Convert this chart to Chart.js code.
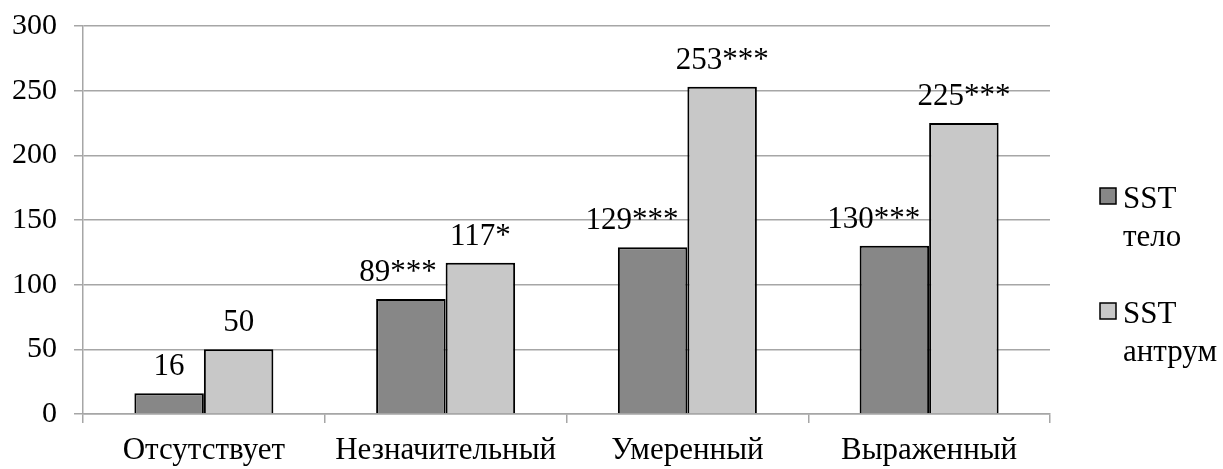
<!DOCTYPE html>
<html>
<head>
<meta charset="utf-8">
<script src="https://cdn.jsdelivr.net/npm/chart.js@4.4.0/dist/chart.umd.min.js"></script>
<style>
    html, body { margin: 0; padding: 0; background: #fff; }
    #grafica { display: block; }
</style>
</head>
<body>
<canvas id="grafica" width="1223" height="469"></canvas>
<script>
"use strict";

const categorias = ["Отсутствует", "Незначительный", "Умеренный", "Выраженный"];
const valoresTelo = [16, 89, 129, 130];
const valoresAntrum = [50, 117, 253, 225];
const etiquetasTelo = ["16", "89***", "129***", "130***"];
const etiquetasAntrum = ["50", "117*", "253***", "225***"];
const nombreTelo = ["SST", "тело"];
const nombreAntrum = ["SST", "антрум"];

const fuente = "'Liberation Serif', 'Times New Roman', serif";
const colorRejilla = "#a6a6a6";

document.addEventListener("DOMContentLoaded", () => {
    const grafica = document.querySelector("#grafica");

    /**
     * Etiquetas de valor encima de cada barra
     */
    const etiquetasPlugin = {
        id: "etiquetas",
        afterDatasetsDraw(chart) {
            const ctx = chart.ctx;
            ctx.save();
            ctx.font = "31px " + fuente;
            ctx.fillStyle = "#000";
            ctx.textAlign = "center";
            ctx.textBaseline = "alphabetic";
            chart.data.datasets.forEach((ds, i) => {
                const meta = chart.getDatasetMeta(i);
                meta.data.forEach((bar, j) => {
                    const texto = ds.etiquetas[j];
                    const ancho = ctx.measureText(texto).width;
                    let x = bar.x;
                    if (i === 0) {
                        x = Math.min(bar.x, bar.x + bar.width / 2 - 9 - ancho / 2);
                    }
                    ctx.fillText(texto, x, bar.y - 18);
                });
            });
            ctx.restore();
        },
    };

    /**
     * Leyenda a la derecha con el texto en dos lineas
     */
    const leyendaPlugin = {
        id: "leyenda",
        afterDraw(chart) {
            const ctx = chart.ctx;
            const xCaja = chart.chartArea.right + 50;
            const xTexto = xCaja + 23;
            const filas = [208, 323];
            ctx.save();
            ctx.font = "31px " + fuente;
            ctx.textAlign = "left";
            ctx.textBaseline = "alphabetic";
            chart.data.datasets.forEach((ds, i) => {
                const base = filas[i];
                ctx.fillStyle = ds.backgroundColor;
                ctx.fillRect(xCaja, base - 20, 16, 16);
                ctx.strokeStyle = "#000";
                ctx.lineWidth = 1.5;
                ctx.strokeRect(xCaja, base - 20, 16, 16);
                ctx.fillStyle = "#000";
                ds.nombre.forEach((linea, k) => {
                    ctx.fillText(linea, xTexto, base + k * 38);
                });
            });
            ctx.restore();
        },
    };

    new Chart(grafica, {
        type: "bar",
        data: {
            labels: categorias,
            datasets: [
                {
                    label: nombreTelo.join(" "),
                    data: valoresTelo,
                    etiquetas: etiquetasTelo,
                    nombre: nombreTelo,
                    backgroundColor: "#878787",
                    borderColor: "#000",
                    borderWidth: 2,
                },
                {
                    label: nombreAntrum.join(" "),
                    data: valoresAntrum,
                    etiquetas: etiquetasAntrum,
                    nombre: nombreAntrum,
                    backgroundColor: "#c8c8c8",
                    borderColor: "#000",
                    borderWidth: 2,
                },
            ],
        },
        options: {
            responsive: false,
            animation: false,
            devicePixelRatio: 1,
            categoryPercentage: 0.575,
            barPercentage: 1,
            layout: {
                padding: { top: 26, right: 173, bottom: 0, left: 0 },
            },
            plugins: {
                legend: { display: false },
                tooltip: { enabled: false },
            },
            scales: {
                x: {
                    ticks: {
                        color: "#000",
                        font: { family: fuente, size: 31 },
                        padding: 9,
                        maxRotation: 0,
                        autoSkip: false,
                    },
                    grid: {
                        offset: true,
                        drawOnChartArea: false,
                        tickLength: 9,
                        color: colorRejilla,
                        lineWidth: 1.5,
                    },
                    border: { display: true, color: colorRejilla, width: 1.5 },
                    afterFit: (scale) => {
                        scale.height = 55;
                    },
                },
                y: {
                    min: 0,
                    max: 300,
                    ticks: {
                        stepSize: 50,
                        color: "#000",
                        font: { family: fuente, size: 30 },
                        padding: 17,
                    },
                    grid: {
                        color: colorRejilla,
                        lineWidth: 1.5,
                        tickLength: 9,
                    },
                    border: { display: true, color: colorRejilla, width: 1.5 },
                    afterFit: (scale) => {
                        scale.width = 83;
                        scale.paddingTop = 0;
                        scale.paddingBottom = 0;
                    },
                },
            },
        },
        plugins: [etiquetasPlugin, leyendaPlugin],
    });
});
</script>
</body>
</html>
